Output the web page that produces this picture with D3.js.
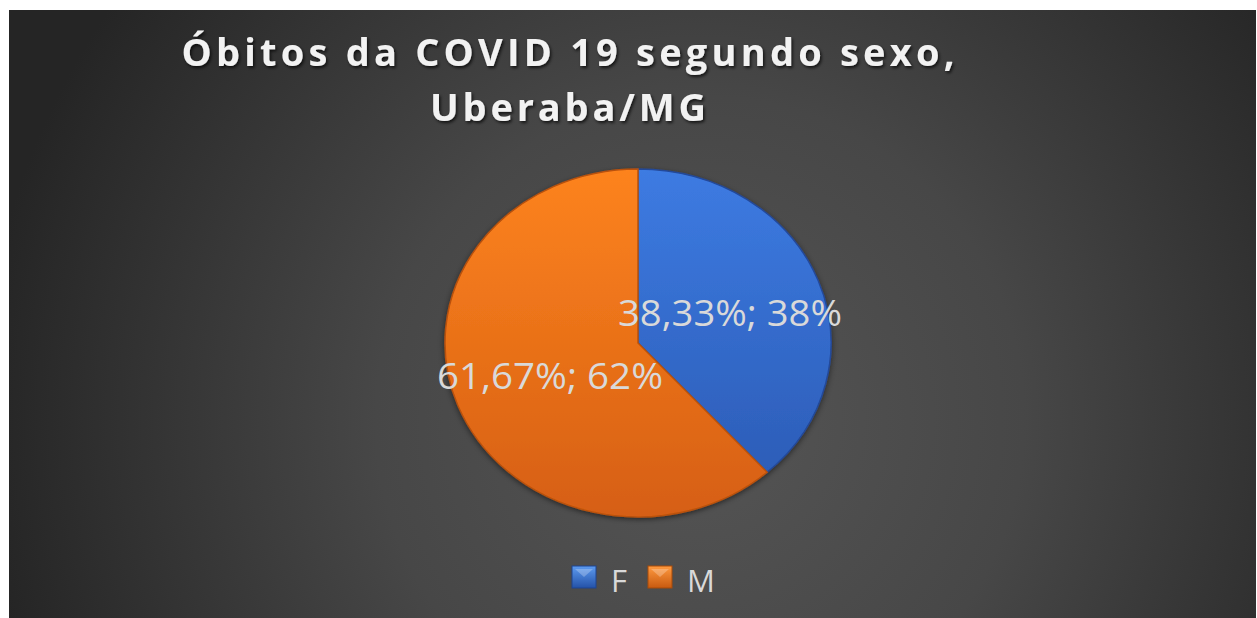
<!DOCTYPE html>
<html><head><meta charset="utf-8">
<script src="https://cdn.jsdelivr.net/npm/d3@7"></script>
<style>html,body{margin:0;padding:0;background:#fff;}svg{display:block;}</style>
</head><body>
<svg id="chart" width="1257" height="618"></svg>
<script>
const categories = ["F", "M"];
const values = [38.33, 61.67];
const rounded = ["38%", "62%"];
const exact = ["38,33%", "61,67%"];
const titleLines = ["Óbitos da COVID 19 segundo  sexo,", "Uberaba/MG"];

const svg = d3.select("#chart");
const defs = svg.append("defs");

const bg = defs.append("radialGradient").attr("id","bg").attr("gradientUnits","userSpaceOnUse")
  .attr("cx",700).attr("cy",420).attr("r",720);
bg.append("stop").attr("offset","0").attr("stop-color","#555555");
bg.append("stop").attr("offset","0.45").attr("stop-color","#474747");
bg.append("stop").attr("offset","1").attr("stop-color","#252525");

const grads = [["gF","#3d7be2","#2a59b2"],["gM","#fd831f","#d65f12"]];
grads.forEach(([id,a,b])=>{
  const g = defs.append("linearGradient").attr("id",id).attr("gradientUnits","userSpaceOnUse")
    .attr("x1",0).attr("y1",-193).attr("x2",0).attr("y2",193);
  g.append("stop").attr("offset","0").attr("stop-color",a);
  g.append("stop").attr("offset","1").attr("stop-color",b);
});
const sq = [["sF","#5d9bf0","#2452a8"],["sM","#ff9a40","#c85a10"]];
sq.forEach(([id,a,b])=>{
  const g = defs.append("linearGradient").attr("id",id).attr("x1",0).attr("y1",0).attr("x2",0).attr("y2",1);
  g.append("stop").attr("offset","0").attr("stop-color",a);
  g.append("stop").attr("offset","1").attr("stop-color",b);
});
const sh = defs.append("filter").attr("id","tshadow").attr("x","-10%").attr("y","-30%").attr("width","120%").attr("height","160%");
sh.append("feDropShadow").attr("dx",1.5).attr("dy",2).attr("stdDeviation",1.5).attr("flood-color","#000").attr("flood-opacity",0.7);
const psh = defs.append("filter").attr("id","pshadow").attr("x","-20%").attr("y","-20%").attr("width","140%").attr("height","140%");
psh.append("feDropShadow").attr("dx",0).attr("dy",2).attr("stdDeviation",3).attr("flood-color","#000").attr("flood-opacity",0.5);

svg.append("rect").attr("x",9).attr("y",10).attr("width",1247).attr("height",608).attr("fill","url(#bg)");

// title
const title = svg.append("g").attr("filter","url(#tshadow)").style("white-space","pre");
title.append("text").attr("x",568).attr("y",66).attr("text-anchor","middle")
  .attr("font-family","'Open Sans', sans-serif").attr("font-weight","bold").attr("font-size",38)
  .attr("fill","#f2f2f2").attr("textLength",773).attr("lengthAdjust","spacing").text(titleLines[0]);
title.append("text").attr("x",568).attr("y",121).attr("text-anchor","middle")
  .attr("font-family","'Open Sans', sans-serif").attr("font-weight","bold").attr("font-size",38)
  .attr("fill","#f2f2f2").attr("textLength",276).attr("lengthAdjust","spacing").text(titleLines[1]);

// pie
const cx = 638, cy = 343, rx = 193, ry = 174;
const pie = d3.pie().sort(null).value(d=>d)(values);
const arc = d3.arc().innerRadius(0).outerRadius(rx);
const pg = svg.append("g").attr("transform",`translate(${cx},${cy}) scale(1,${ry/rx})`).attr("filter","url(#pshadow)");
pg.selectAll("path").data(pie).join("path")
  .attr("d",arc).attr("fill",(d,i)=>`url(#${grads[i][0]})`)
  .attr("stroke",(d,i)=>i===0?"#24499a":"#b9510c").attr("stroke-width",1.5);

// labels
const labelPos = [[730,326,224],[550,389,226]];
svg.append("g").selectAll("text").data(pie).join("text")
  .attr("x",(d,i)=>labelPos[i][0]).attr("y",(d,i)=>labelPos[i][1])
  .attr("text-anchor","middle").attr("font-family","'Open Sans', sans-serif").attr("font-size",36)
  .attr("fill","#d9d9d9").attr("textLength",(d,i)=>labelPos[i][2]).attr("lengthAdjust","spacingAndGlyphs")
  .text((d,i)=>`${exact[i]}; ${rounded[i]}`);

// legend
const lx = d3.scalePoint().domain(categories).range([572,648]);
const lg = svg.append("g").selectAll("g").data(categories).join("g")
  .attr("transform",d=>`translate(${lx(d)},566)`);
lg.append("rect").attr("width",24).attr("height",22).attr("fill",(d,i)=>`url(#${sq[i][0]})`)
  .attr("stroke",(d,i)=>i===0?"#1f4590":"#a84a08").attr("stroke-width",1);
lg.append("path").attr("d","M3,3 L21,3 L12,11 Z").attr("fill","#ffffff").attr("opacity",0.25);
lg.append("text").attr("x",39).attr("y",26).attr("font-family","'Open Sans', sans-serif").attr("font-size",31)
  .attr("fill","#d9d9d9").text(d=>d);
</script>
</body></html>
